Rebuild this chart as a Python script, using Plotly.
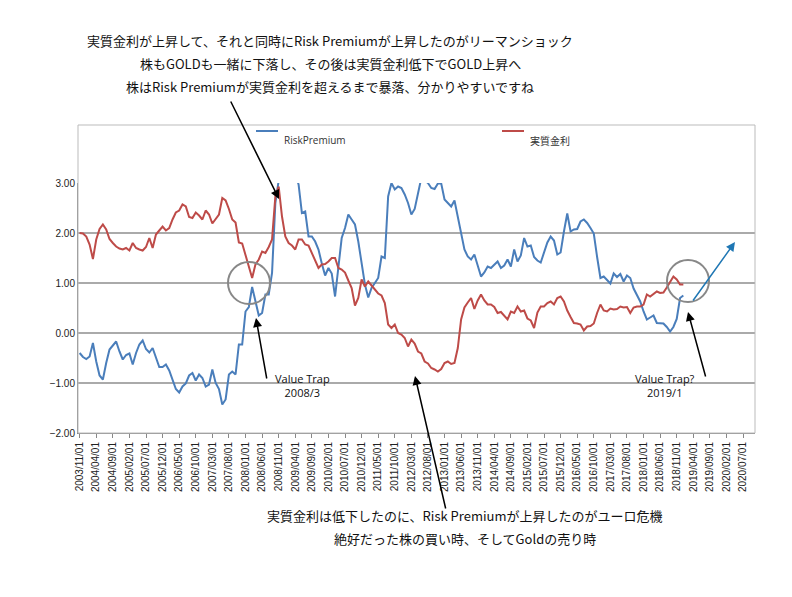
import plotly.graph_objects as go

start_year, start_month = 2003, 11
risk_premium = [-0.40,-0.48,-0.52,-0.47,-0.20,-0.57,-0.85,-0.93,-0.60,-0.33,-0.25,-0.17,-0.37,-0.53,-0.44,-0.41,-0.63,-0.40,-0.23,-0.15,
 -0.32,-0.39,-0.30,-0.47,-0.68,-0.68,-0.63,-0.75,-0.92,-1.12,-1.19,-1.07,-1.01,-0.85,-0.80,-0.95,-0.83,-0.90,-1.07,-1.03,
 -0.73,-1.00,-1.12,-1.43,-1.33,-0.83,-0.77,-0.83,-0.23,-0.23,0.43,0.52,0.92,0.60,0.35,0.40,0.77,0.77,1.20,2.60,
 3.00,3.50,4.20,4.00,3.40,3.20,2.97,2.40,2.43,1.93,1.93,1.83,1.67,1.39,1.15,1.30,1.19,0.73,1.33,1.90,
 2.10,2.37,2.27,2.17,1.83,1.37,0.97,0.71,0.90,1.00,1.10,1.53,1.50,2.73,3.00,2.87,2.93,2.90,2.77,2.60,
 2.37,2.48,2.77,3.10,3.05,3.00,2.90,2.88,2.99,2.99,2.67,2.60,2.53,2.65,2.30,2.03,1.67,1.53,1.47,1.57,
 1.35,1.13,1.21,1.33,1.30,1.37,1.43,1.30,1.35,1.47,1.33,1.67,1.43,1.55,1.90,1.73,1.75,1.52,1.45,1.41,
 1.61,1.81,1.93,1.85,1.57,1.61,2.03,2.39,2.03,2.07,2.08,2.23,2.27,2.20,2.10,1.99,1.52,1.10,1.13,1.07,
 0.99,1.19,1.12,1.18,1.03,1.15,1.10,0.89,0.77,0.63,0.43,0.27,0.31,0.35,0.20,0.20,0.19,0.12,0.03,0.12,
 0.28,0.70,0.75]
real_rate = [2.00,1.99,1.93,1.77,1.48,1.87,2.08,2.17,2.07,1.88,1.80,1.73,1.69,1.67,1.70,1.65,1.80,1.70,1.67,1.65,
 1.72,1.90,1.70,1.97,2.05,2.13,2.05,2.10,2.27,2.41,2.45,2.57,2.53,2.32,2.30,2.41,2.35,2.27,2.45,2.37,
 2.19,2.27,2.37,2.70,2.65,2.48,2.27,2.21,1.81,1.79,1.57,1.33,1.10,1.37,1.47,1.63,1.60,1.72,1.87,2.73,
 2.93,2.33,1.93,1.80,1.75,1.67,1.87,1.87,1.77,1.75,1.61,1.45,1.30,1.37,1.38,1.43,1.50,1.50,1.30,1.27,
 1.21,1.05,0.90,0.55,0.70,1.07,0.93,1.03,0.95,0.85,0.79,0.75,0.60,0.17,0.10,0.17,0.00,-0.03,-0.10,-0.27,
 -0.13,-0.21,-0.37,-0.41,-0.57,-0.61,-0.70,-0.73,-0.77,-0.72,-0.60,-0.57,-0.62,-0.60,-0.30,0.27,0.51,0.61,0.70,0.48,
 0.65,0.77,0.65,0.57,0.57,0.52,0.40,0.42,0.35,0.27,0.43,0.40,0.53,0.43,0.45,0.29,0.25,0.10,0.41,0.53,
 0.53,0.60,0.63,0.57,0.70,0.73,0.63,0.45,0.32,0.20,0.19,0.17,0.05,0.13,0.14,0.19,0.40,0.57,0.45,0.43,
 0.49,0.47,0.48,0.53,0.51,0.52,0.40,0.51,0.53,0.53,0.57,0.77,0.73,0.78,0.83,0.80,0.81,0.91,1.03,1.13,
 1.07,0.97,0.97]
n_months_axis = 201
tick_step = 5
y_ticks = [-2, -1, 0, 1, 2, 3]
top_lines = ["実質金利が上昇して、それと同時にRisk Premiumが上昇したのがリーマンショック",
             "株もGOLDも一緒に下落し、その後は実質金利低下でGOLD上昇へ",
             "株はRisk Premiumが実質金利を超えるまで暴落、分かりやすいですね"]
bottom_lines = ["実質金利は低下したのに、Risk Premiumが上昇したのがユーロ危機",
                "絶好だった株の買い時、そしてGoldの売り時"]

def label(i):
    m = start_month - 1 + i
    return f"{start_year + m // 12}/{m % 12 + 1:02d}/01"

xs = list(range(len(real_rate)))
tickvals = list(range(0, n_months_axis, tick_step))
ticktext = [label(i) for i in tickvals]

OFF = 8  # page body margin
L, R, T, B = 78, 755, 183, 433
W, H = 792 - OFF, 597 - OFF
def px(X): return (X - L) / (R - L)
def py(Y): return (B - Y) / (B - T)

fig = go.Figure()
fig.add_trace(go.Scatter(x=xs, y=risk_premium, mode="lines", name="RiskPremium",
                         line=dict(color="#4a7ebb", width=2)))
fig.add_trace(go.Scatter(x=xs, y=real_rate, mode="lines", name="実質金利",
                         line=dict(color="#be4b48", width=2)))

jp = "Noto Sans CJK JP"
shapes = [
    dict(type="rect", xref="paper", yref="paper", x0=0, x1=1, y0=0, y1=py(125),
         line=dict(color="#bbbbbb", width=1)),
    dict(type="circle", xref="paper", yref="paper", x0=px(228), x1=px(270), y0=py(304), y1=py(262),
         line=dict(color="#888888", width=2)),
    dict(type="circle", xref="paper", yref="paper", x0=px(667), x1=px(709), y0=py(302), y1=py(260),
         line=dict(color="#888888", width=2)),
    dict(type="line", xref="paper", yref="paper", x0=px(256), x1=px(278), y0=py(131), y1=py(131),
         line=dict(color="#4a7ebb", width=2)),
    dict(type="line", xref="paper", yref="paper", x0=px(502), x1=px(524), y0=py(131), y1=py(131),
         line=dict(color="#be4b48", width=2)),
]
ann = [
    dict(x=px(282), y=py(131), text="RiskPremium", xanchor="left", font=dict(size=10, color="#333")),
    dict(x=px(528), y=py(131), text="実質金利", xanchor="left", font=dict(size=10, color="#333", family=jp)),
    dict(x=px(273), y=py(402), text="Value Trap<br>2008/3", font=dict(size=11, color="#111")),
    dict(x=px(697), y=py(402), text="Value Trap?<br>2019/1", font=dict(size=11, color="#111")),
]
for i, t in enumerate(top_lines):
    ann.append(dict(x=px(330), y=py(29 + 23 * i), text=t, font=dict(size=13, color="#111", family=jp)))
for i, t in enumerate(bottom_lines):
    ann.append(dict(x=px(465), y=py(527 + 23 * i), text=t, font=dict(size=13, color="#111", family=jp)))
for hx, hy, tx, ty, col in [(279, 199, 230, 100, "black"), (256, 318, 267, 380, "black"),
                            (415, 376, 446, 510, "black"), (688, 312, 706, 378, "black"),
                            (735, 242, 692, 302, "#1f77b4")]:
    ann.append(dict(x=px(hx), y=py(hy), ax=tx - hx, ay=ty - hy,
                    showarrow=True, arrowhead=2, arrowsize=1.2, arrowwidth=1.5, arrowcolor=col, text=""))
for a in ann:
    a.setdefault("xref", "paper"); a.setdefault("yref", "paper"); a.setdefault("showarrow", False)

fig.update_layout(
    width=W, height=H, margin=dict(l=L - OFF, r=792 - R, t=T - OFF, b=597 - B),
    paper_bgcolor="white", plot_bgcolor="white", showlegend=False,
    shapes=shapes, annotations=ann,
    xaxis=dict(range=[-0.5, 203.6], tickvals=tickvals, ticktext=ticktext, tickangle=-90,
               showgrid=False, zeroline=False, tickfont=dict(size=10, color="#222", family="Liberation Sans"),
               showline=True, linecolor="#888", ticks="outside", ticklen=4, tickcolor="#888"),
    yaxis=dict(range=[-2, 3], tickvals=y_ticks, tickformat=".2f", showgrid=True, gridcolor="#aaaaaa",
               gridwidth=1.5, zeroline=False, tickfont=dict(size=10, color="#222", family="Liberation Sans"),
               showline=True, linecolor="#888"),
)
fig.write_html("out.html")
